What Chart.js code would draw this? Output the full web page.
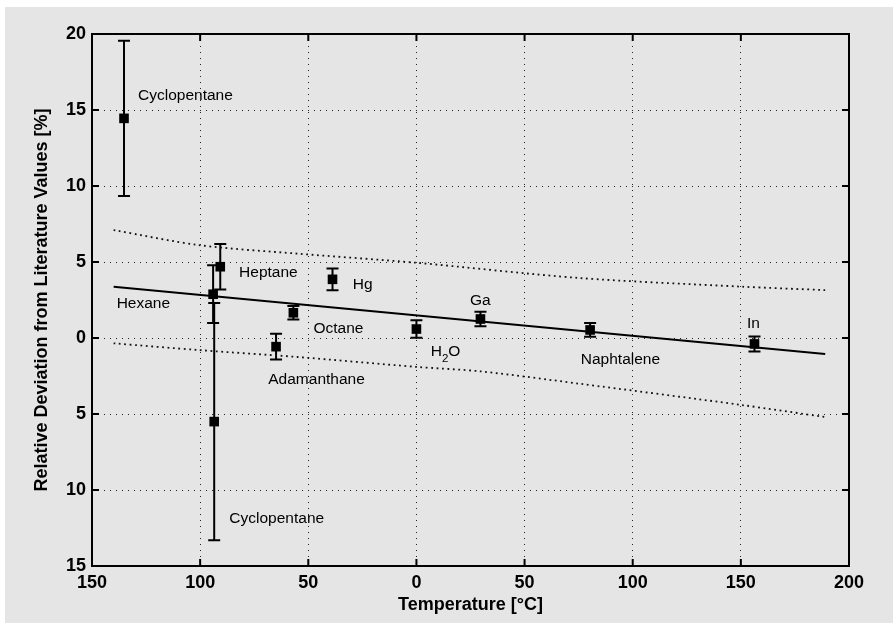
<!DOCTYPE html>
<html>
<head>
<meta charset="utf-8">
<script src="https://cdn.jsdelivr.net/npm/chart.js@4/dist/chart.umd.min.js"></script>
<style>
  html, body { margin: 0; padding: 0; background: #fff; }
  canvas { display: block; }
</style>
</head>
<body>
<canvas id="chart" width="893" height="623"></canvas>
<script>
// melting point (x), relative deviation (y) and error bar half width
const temps = [-135.2, -94.0, -93.5, -90.7, -64.9, -56.9, -38.8, 0, 29.6, 80.3, 156.3];
const deviations = [14.45, 2.88, -5.5, 4.69, -0.57, 1.66, 3.86, 0.59, 1.25, 0.53, -0.39];
const errors = [5.1, 1.9, 7.8, 1.5, 0.85, 0.45, 0.72, 0.58, 0.48, 0.45, 0.49];

// regression line and the dotted confidence band
const fitX = [-140, 189];
const fitY = [3.37, -1.05];
const upperX = [-140, -100, -55, 0, 75, 150, 189];
const upperY = [7.1, 6.1, 5.55, 4.95, 3.95, 3.38, 3.15];
const lowerX = [-140, -100, -55, 0, 30, 75, 150, 189];
const lowerY = [-0.35, -0.8, -1.25, -1.9, -2.2, -3.0, -4.4, -5.2];

// names written next to the points (data coords: left edge, middle)
const labelText = ["Cyclopentane", "Hexane", "Heptane", "Hg", "Octane", "Adamanthane", "H2O", "Ga", "Naphtalene", "In", "Cyclopentane"];
const labelX = [-128.7, -138.6, -82, -29.4, -47.6, -68.5, 6.6, 24.8, 76.0, 152.8, -86.5];
const labelY = [15.92, 2.24, 4.28, 3.49, 0.61, -2.72, -0.9, 2.45, -1.4, 0.92, -11.86];

const xTicks = [-150, -100, -50, 0, 50, 100, 150, 200];
const yTicks = [-15, -10, -5, 0, 5, 10, 15, 20];

const FONT = "'Liberation Sans', Arial, Helvetica, sans-serif";

const decor = {
  id: "decor",
  beforeDraw(chart) {
    const ctx = chart.ctx;
    ctx.save();
    ctx.fillStyle = "#fff";
    ctx.fillRect(0, 0, chart.width, chart.height);
    ctx.fillStyle = "#e5e5e5";
    ctx.fillRect(5, 7, chart.width - 5, chart.height - 7);
    ctx.restore();
  },
  beforeDatasetsDraw(chart) {
    // error bars
    const { ctx, scales: { x, y } } = chart;
    ctx.save();
    ctx.strokeStyle = "#000";
    ctx.lineWidth = 2;
    temps.forEach((t, i) => {
      const px = x.getPixelForValue(t);
      const top = y.getPixelForValue(deviations[i] + errors[i]);
      const bot = y.getPixelForValue(deviations[i] - errors[i]);
      ctx.beginPath();
      ctx.moveTo(px, top); ctx.lineTo(px, bot);
      ctx.moveTo(px - 6, top); ctx.lineTo(px + 6, top);
      ctx.moveTo(px - 6, bot); ctx.lineTo(px + 6, bot);
      ctx.stroke();
    });
    ctx.restore();
  },
  afterDatasetsDraw(chart) {
    const { ctx, chartArea: a, scales: { x, y } } = chart;
    ctx.save();

    // labels
    ctx.fillStyle = "#000";
    ctx.textBaseline = "middle";
    ctx.textAlign = "left";
    labelText.forEach((txt, i) => {
      let px = x.getPixelForValue(labelX[i]);
      const py = y.getPixelForValue(labelY[i]);
      if (txt === "H2O") {
        ctx.font = "15.5px " + FONT;
        ctx.fillText("H", px, py);
        px += ctx.measureText("H").width;
        ctx.font = "11.5px " + FONT;
        ctx.fillText("2", px, py + 7);
        px += ctx.measureText("2").width;
        ctx.font = "15.5px " + FONT;
        ctx.fillText("O", px, py);
      } else {
        ctx.font = "15.5px " + FONT;
        ctx.fillText(txt, px, py);
      }
    });

    // frame with inward ticks
    ctx.strokeStyle = "#000";
    ctx.lineWidth = 2;
    ctx.strokeRect(a.left, a.top, a.right - a.left, a.bottom - a.top);
    ctx.beginPath();
    xTicks.forEach(v => {
      const px = x.getPixelForValue(v);
      ctx.moveTo(px, a.bottom); ctx.lineTo(px, a.bottom - 7);
      ctx.moveTo(px, a.top); ctx.lineTo(px, a.top + 7);
    });
    yTicks.forEach(v => {
      const py = y.getPixelForValue(v);
      ctx.moveTo(a.left, py); ctx.lineTo(a.left + 7, py);
      ctx.moveTo(a.right, py); ctx.lineTo(a.right - 7, py);
    });
    ctx.stroke();
    ctx.restore();
  }
};

const toPoints = (xs, ys) => xs.map((v, i) => ({ x: v, y: ys[i] }));

new Chart(document.getElementById("chart"), {
  type: "scatter",
  data: {
    datasets: [
      {
        data: toPoints(temps, deviations),
        pointStyle: "rect",
        pointRadius: 6.8,
        pointBorderWidth: 0,
        backgroundColor: "#000",
        borderColor: "#000"
      },
      {
        type: "line",
        data: toPoints(fitX, fitY),
        borderColor: "#000",
        borderWidth: 2,
        pointRadius: 0,
        fill: false
      },
      {
        type: "line",
        data: toPoints(upperX, upperY),
        borderColor: "#111",
        borderWidth: 1.8,
        borderDash: [1.8, 3.6],
        pointRadius: 0,
        tension: 0.3,
        fill: false
      },
      {
        type: "line",
        data: toPoints(lowerX, lowerY),
        borderColor: "#111",
        borderWidth: 1.8,
        borderDash: [1.8, 3.6],
        pointRadius: 0,
        tension: 0.3,
        fill: false
      }
    ]
  },
  options: {
    responsive: false,
    animation: false,
    devicePixelRatio: 1,
    layout: { padding: { left: 5, top: 34, right: 44, bottom: 0 } },
    plugins: { legend: { display: false }, tooltip: { enabled: false } },
    scales: {
      x: {
        type: "linear",
        min: -150,
        max: 200,
        afterBuildTicks: s => { s.ticks = xTicks.map(v => ({ value: v })); },
        afterFit: s => { s.height = 57; },
        grid: { color: "#222", lineWidth: 1, drawTicks: false },
        border: { display: false, dash: [1, 5] },
        ticks: {
          padding: 6,
          color: "#000",
          maxRotation: 0,
          autoSkip: false,
          font: { family: FONT, size: 18, weight: "bold" },
          callback: v => String(Math.abs(v))
        },
        title: {
          display: true,
          text: "Temperature [°C]",
          color: "#000",
          font: { family: FONT, size: 18, weight: "bold" },
          padding: { top: 0, bottom: 7 }
        }
      },
      y: {
        type: "linear",
        min: -15,
        max: 20,
        afterBuildTicks: s => { s.ticks = yTicks.map(v => ({ value: v })); },
        afterFit: s => { s.width = 87; },
        grid: { color: "#222", lineWidth: 1, drawTicks: false },
        border: { display: false, dash: [1, 5] },
        ticks: {
          padding: 6,
          color: "#000",
          autoSkip: false,
          font: { family: FONT, size: 18, weight: "bold" },
          callback: v => String(Math.abs(v))
        },
        title: {
          display: true,
          text: "Relative Deviation from Literature Values [%]",
          color: "#000",
          font: { family: FONT, size: 18, weight: "bold" },
          padding: { top: 26, bottom: 0 }
        }
      }
    }
  },
  plugins: [decor]
});
</script>
</body>
</html>
